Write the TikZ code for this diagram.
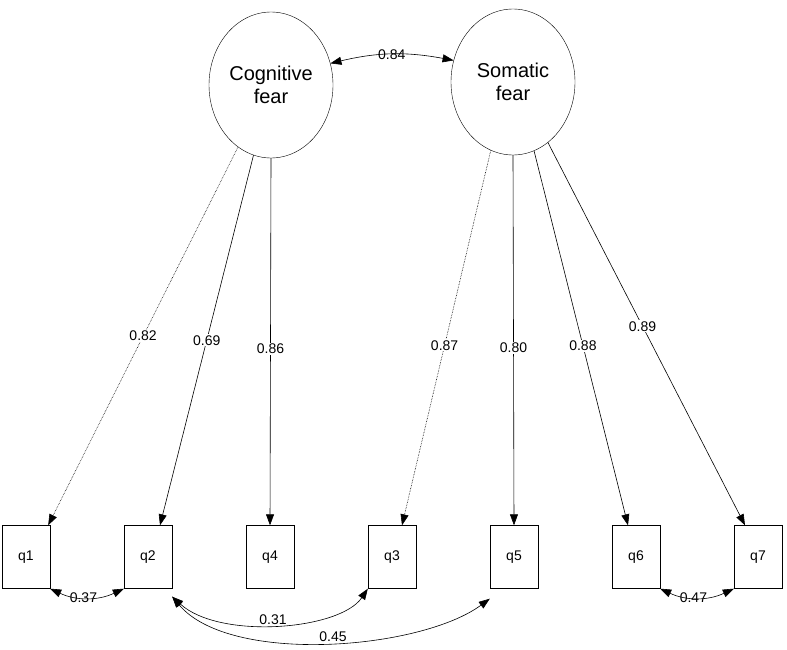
\documentclass[tikz,border=0pt]{standalone}
\usepackage{fontspec}
\setmainfont{Liberation Sans}
\usetikzlibrary{arrows.meta,shapes.geometric}
\begin{document}
\begin{tikzpicture}[x=1pt,y=-1pt,
  lat/.style={draw,ellipse,minimum width=124pt,minimum height=146pt,font=\fontsize{20}{23}\selectfont,align=center,inner sep=0pt},
  obs/.style={draw,rectangle,minimum width=48pt,minimum height=63pt,font=\fontsize{14}{16}\selectfont,inner sep=0pt},
  ld/.style={-{Triangle[length=11pt,width=8pt]},line width=0.6pt},
  cv/.style={{Triangle[length=11pt,width=8pt]}-{Triangle[length=11pt,width=8pt]},line width=0.6pt},
  lbl/.style={font=\fontsize{14}{16}\selectfont,inner sep=1pt}]
\useasboundingbox (0,0) rectangle (787,650);
\node[lat] (cog) at (271,85) {Cognitive\\fear};
\node[lat] (som) at (513,82) {Somatic\\fear};
\node[obs] (q1) at (26,557) {q1};
\node[obs] (q2) at (148,557) {q2};
\node[obs] (q4) at (270,557) {q4};
\node[obs] (q3) at (392,557) {q3};
\node[obs] (q5) at (514,557) {q5};
\node[obs] (q6) at (636,557) {q6};
\node[obs] (q7) at (758,557) {q7};
\draw[ld,densely dotted] (cog.242) -- ([xshift=-2pt]q1.north east) node[lbl,pos=0.5,fill=white] {0.82};
\draw[ld] (cog.256) -- ([xshift=12pt]q2.north) node[lbl,pos=0.5,fill=white] {0.69};
\draw[ld] (cog.270) -- (q4.north) node[lbl,pos=0.52,fill=white] {0.86};
\draw[ld,densely dotted] (som.252) -- ([xshift=10pt]q3.north) node[lbl,pos=0.52,fill=white] {0.87};
\draw[ld] (som.270) -- (q5.north) node[lbl,pos=0.52,fill=white] {0.80};
\draw[ld] (som.287) -- ([xshift=-8pt]q6.north) node[lbl,pos=0.52,fill=white] {0.88};
\draw[ld] (som.300) -- ([xshift=-13pt]q7.north) node[lbl,pos=0.48,fill=white] {0.89};
\draw[cv] (cog.20) to[bend left=12] node[lbl,pos=0.5] {0.84} (som.160);
\draw[cv] (q1.south east) to[bend right=25] node[lbl,pos=0.45] {0.37} (q2.south west);
\draw[cv] (q6.south east) to[bend right=25] node[lbl,pos=0.45] {0.47} (q7.south west);
\draw[cv] ([yshift=-8pt]q2.south east) .. controls (220,640) and (340,630) .. (q3.south west);
\node[lbl] (l31) at (273,620) {0.31};
\draw[cv] ([yshift=-8pt]q2.south east) .. controls (230,665) and (420,650) .. ([yshift=-10pt]q5.south west);
\node[lbl] (l45) at (333,637) {0.45};
\end{tikzpicture}
\end{document}
